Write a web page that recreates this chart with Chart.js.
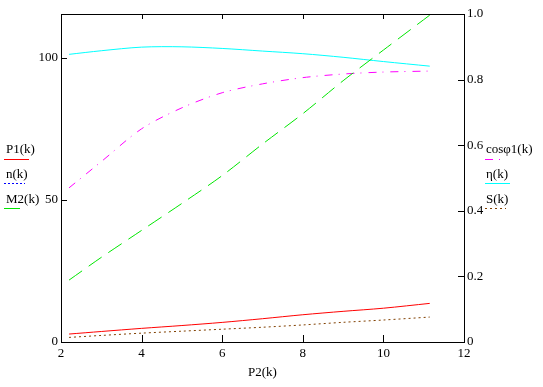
<!DOCTYPE html>
<html>
<head>
<meta charset="utf-8">
<script src="https://cdn.jsdelivr.net/npm/chart.js@4"></script>
<style>
  body { margin: 0; background: #fff; }
  #wrap { position: relative; width: 543px; height: 387px; }
  .lg { position: absolute; font: 13px "Liberation Serif", "Times New Roman", serif; color: #000; white-space: nowrap; line-height: 13px; }
  svg.sw { position: absolute; left: 0; top: 0; }
</style>
</head>
<body>
<div id="wrap">
  <canvas id="js--chart" width="543" height="387"></canvas>
  <div class="lg" style="left:6px;top:142px">P1(k)</div>
  <div class="lg" style="left:6px;top:167px">n(k)</div>
  <div class="lg" style="left:6px;top:192px">M2(k)</div>
  <div class="lg" style="left:486px;top:142px">cosφ1(k)</div>
  <div class="lg" style="left:486px;top:167px">η(k)</div>
  <div class="lg" style="left:486px;top:192px">S(k)</div>
  <svg class="sw" width="543" height="387" id="swatches"></svg>
</div>
<script>
// x values P2(k)
const p2 = [2.2, 3.0, 4.0, 5.0, 6.0, 7.0, 8.0, 9.0, 10.0, 11.15];

// left axis
const p1 = [2.8, 3.7, 4.8, 5.8, 6.9, 8.2, 9.6, 10.8, 11.9, 13.6];
const n = []; // n(k) does not show inside the plot
const m2 = [21.8, 29.8, 39.3, 48.8, 58.6, 69.7, 80.4, 92.0, 102.8, 115.1];

// right axis
const cosphi = [0.470, 0.550, 0.650, 0.714, 0.760, 0.787, 0.806, 0.817, 0.823, 0.826];
const eta = [0.877, 0.888, 0.899, 0.900, 0.895, 0.887, 0.879, 0.868, 0.855, 0.841];
const s = [0.014, 0.020, 0.027, 0.033, 0.039, 0.045, 0.052, 0.060, 0.067, 0.076];

const leftTicks = [0, 50, 100];
const xTicks = [2, 4, 6, 8, 10, 12];

function pts(ys) {
    return ys.map(function (y, i) { return { x: p2[i], y: y }; });
}

const FONT = { family: '"Liberation Serif", "Times New Roman", serif', size: 13 };

function ds(label, data, color, dash, axis) {
    return {
        label: label,
        data: pts(data),
        borderColor: color,
        borderWidth: 1,
        borderDash: dash,
        pointRadius: 0,
        tension: 0.3,
        fill: false,
        yAxisID: axis,
    };
}

const data = {
    datasets: [
        ds("P1(k)", p1, '#ff0000', [], 'yL'),
        ds("n(k)", n, '#0000ff', [2, 2], 'yL'),
        ds("M2(k)", m2, '#00e600', [16, 8], 'yL'),
        ds("cosφ1(k)", cosphi, '#ff00ff', [8, 6, 1, 7], 'yR'),
        ds("η(k)", eta, '#00ffff', [], 'yR'),
        ds("S(k)", s, '#804000', [2, 3], 'yR'),
    ]
};

// legend swatches (svg lines, style taken from the datasets)
const swPos = [[4, 29, 159.5], [4, 25, 183.5], [4, 22, 208.5], [485, 503, 159.5], [485, 510, 183.5], [485, 506, 208.5]];
let svgHtml = '';
data.datasets.forEach(function (d, i) {
    const p = swPos[i];
    svgHtml += '<line x1="' + p[0] + '" y1="' + p[2] + '" x2="' + p[1] + '" y2="' + p[2] +
        '" stroke="' + d.borderColor + '" stroke-width="1"' +
        (d.borderDash.length ? ' stroke-dasharray="' + d.borderDash.join(' ') + '"' : '') + '/>';
});
document.getElementById('swatches').innerHTML = svgHtml;

// frame and inward ticks
const frame = {
    id: 'frame',
    afterDraw(chart) {
        const ctx = chart.ctx;
        const a = chart.chartArea;
        const sx = chart.scales.x, yl = chart.scales.yL, yr = chart.scales.yR;
        ctx.save();
        ctx.strokeStyle = '#000';
        ctx.lineWidth = 1;
        ctx.setLineDash([]);
        ctx.strokeRect(Math.round(a.left) + 0.5, Math.round(a.top) + 0.5,
            Math.round(a.right - a.left), Math.round(a.bottom - a.top));
        ctx.beginPath();
        xTicks.forEach(function (v) {
            const x = Math.round(sx.getPixelForValue(v)) + 0.5;
            ctx.moveTo(x, a.bottom); ctx.lineTo(x, a.bottom - 7);
            ctx.moveTo(x, a.top); ctx.lineTo(x, a.top + 5);
        });
        leftTicks.forEach(function (v) {
            const y = Math.round(yl.getPixelForValue(v)) + 0.5;
            ctx.moveTo(a.left, y); ctx.lineTo(a.left + 6, y);
        });
        yr.ticks.forEach(function (t) {
            const y = Math.round(yr.getPixelForValue(t.value)) + 0.5;
            ctx.moveTo(a.right, y); ctx.lineTo(a.right - 6, y);
        });
        ctx.stroke();
        ctx.restore();
    }
};

const config = {
    type: 'line',
    data: data,
    options: {
        responsive: false,
        animation: false,
        layout: { padding: { top: 14 } },
        plugins: { legend: { display: false }, tooltip: { enabled: false } },
        scales: {
            x: {
                type: 'linear',
                min: 2, max: 12,
                afterBuildTicks(sc) { sc.ticks = xTicks.map(function (v) { return { value: v }; }); },
                afterFit(sc) { sc.height = 45; },
                grid: { display: false, drawTicks: false },
                border: { display: false },
                ticks: { color: '#000', font: FONT, padding: 4, maxRotation: 0 },
                title: { display: true, text: 'P2(k)', color: '#000', font: FONT, padding: { top: 0, bottom: 7 } },
            },
            yL: {
                type: 'linear',
                position: 'left',
                min: 0, max: 115.5,
                afterBuildTicks(sc) { sc.ticks = leftTicks.map(function (v) { return { value: v }; }); },
                afterFit(sc) { sc.width = 61; },
                grid: { display: false, drawTicks: false },
                border: { display: false },
                ticks: { color: '#000', font: FONT, padding: 3 },
            },
            yR: {
                type: 'linear',
                position: 'right',
                min: 0, max: 1,
                afterFit(sc) { sc.width = 79; },
                grid: { display: false, drawTicks: false },
                border: { display: false },
                ticks: { color: '#000', font: FONT, padding: 3, stepSize: 0.2 },
            },
        },
    },
    plugins: [frame],
};

new Chart(document.getElementById("js--chart"), config);
</script>
</body>
</html>
